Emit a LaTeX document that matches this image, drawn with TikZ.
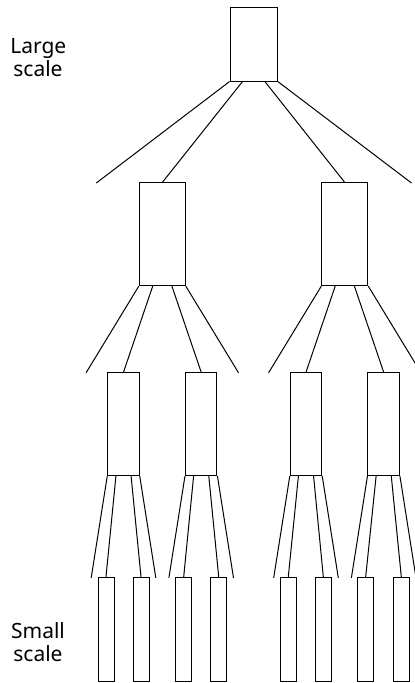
\documentclass[tikz,border=0pt]{standalone}
\usepackage{fontspec}
\setmainfont{Noto Sans}
\begin{document}
\begin{tikzpicture}[x=1pt,y=-1pt,line width=1pt,
  topbox/.style={draw,inner sep=0pt,minimum width=47.3pt,minimum height=73.7pt},
  midbox/.style={draw,inner sep=0pt,minimum width=46pt,minimum height=102.7pt},
  lowbox/.style={draw,inner sep=0pt,minimum width=31.5pt,minimum height=103pt},
  leafbox/.style={draw,inner sep=0pt,minimum width=16pt,minimum height=104.4pt},
  lbl/.style={font=\fontsize{21}{23.4}\selectfont,anchor=base,inner sep=0pt}]
\useasboundingbox (0,0) rectangle (415,683);
\clip (0,0) rectangle (415,683);
% labels
\node[lbl] (lg1) at (38.3,53.3) {Large};
\node[lbl] (lg2) at (38,76.7) {scale};
\node[lbl] (sm1) at (38,638.3) {Small};
\node[lbl] (sm2) at (38,661.7) {scale};
% boxes
\node[topbox] (T) at (253.7,44.2) {};
\node[midbox] (A) at (162.3,234.3) {};
\node[midbox] (B) at (344.8,234.3) {};
\node[lowbox] (A1) at (123.5,424.2) {};
\node[lowbox] (A2) at (201.2,424.2) {};
\node[lowbox] (B1) at (306,424.2) {};
\node[lowbox] (B2) at (383.7,424.2) {};
\node[leafbox] (A11) at (106,629.5) {};
\node[leafbox] (A12) at (141,629.5) {};
\node[leafbox] (A21) at (183.7,629.5) {};
\node[leafbox] (A22) at (218.7,629.5) {};
\node[leafbox] (B11) at (288.3,629.5) {};
\node[leafbox] (B12) at (323.3,629.5) {};
\node[leafbox] (B21) at (365.7,629.5) {};
\node[leafbox] (B22) at (401.3,629.5) {};
% top level connectors
\coordinate (T-l) at (96.3,183);
\coordinate (T-r) at (411.5,183);
\draw (T.south west) -- (T-l);
\draw (T.south east) -- (T-r);
\draw ([xshift=-11.2pt]T.south) -- (A.north);
\draw ([xshift=11.2pt]T.south) -- (B.north);
% middle level connectors
\foreach \n in {A,B}{
  \coordinate (\n-l) at ([xshift=-76.2pt,yshift=-86.6pt]\n.south);
  \coordinate (\n-r) at ([xshift=76.2pt,yshift=-86.6pt]\n.south);
  \draw (\n.south west) -- (\n-l);
  \draw (\n.south east) -- (\n-r);
  \draw ([xshift=-9.6pt]\n.south) -- (\n1.north);
  \draw ([xshift=9.6pt]\n.south) -- (\n2.north);
}
% lower level connectors
\foreach \n in {A1,A2,B1,B2}{
  \coordinate (\n-l) at ([xshift=-32.3pt,yshift=-101.6pt]\n.south);
  \coordinate (\n-r) at ([xshift=32.3pt,yshift=-101.6pt]\n.south);
  \draw (\n.south west) -- (\n-l);
  \draw (\n.south east) -- (\n-r);
  \draw ([xshift=-7.6pt]\n.south) -- (\n1.north);
  \draw ([xshift=7.6pt]\n.south) -- (\n2.north);
}
\end{tikzpicture}
\end{document}
